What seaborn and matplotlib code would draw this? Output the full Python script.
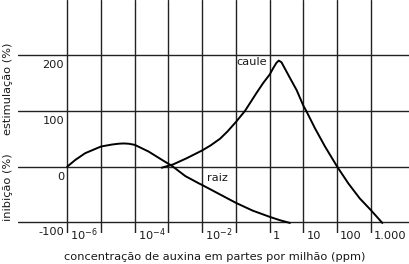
import numpy as np
import pandas as pd
import matplotlib
matplotlib.use("Agg")
import matplotlib.pyplot as plt
from matplotlib.ticker import NullLocator
import seaborn as sns

# ---- data (log10 of concentration in ppm, response in %) ----
raiz_exp = [-6, -5.76, -5.47, -5.0, -4.68, -4.48, -4.33, -4.18, -4.0, -3.59,
            -3.19, -2.89, -2.5, -2.1, -2.0, -1.5, -1.0, -0.5, 0.0, 0.3, 0.6]
raiz_val = [0, 12, 24, 36, 39.5, 41, 41.5, 41, 39, 27,
            12, 1, -17, -30, -33, -49, -65, -79, -90, -96, -101]

caule_exp = [-3.2, -2.86, -2.46, -2.0, -1.75, -1.47, -1.25, -1.0, -0.73, -0.39,
             -0.19, 0.0, 0.11, 0.2, 0.27, 0.35, 0.6, 0.8, 1.0, 1.1,
             1.34, 1.64, 2.0, 2.33, 2.67, 3.0, 3.34]
caule_val = [-2, 4, 15, 29, 38, 50, 63, 80, 100, 132,
             150, 165, 177, 186, 190, 187, 159, 137, 109, 98,
             69, 36, 0, -30, -57, -78, -101]

x_tick_exp = [-6, -5, -4, -3, -2, -1, 0, 1, 2, 3]
x_label_exp = [-6, -4, -2, 0, 1, 2, 3]
x_label_txt = ["$10^{-6}$", "$10^{-4}$", "$10^{-2}$", "1", "10", "100", "1.000"]
y_ticks = [-100, 0, 100, 200]
y_label_txt = ["-100", "0", "100", "200"]

sns.set_style("white")
plt.rcParams["font.family"] = ["DejaVu Sans"]
plt.rcParams["mathtext.fontset"] = "dejavusans"
FS = 8.2
TXT = "#1a1a1a"

df_r = pd.DataFrame({"conc": np.power(10.0, raiz_exp), "val": raiz_val})
df_c = pd.DataFrame({"conc": np.power(10.0, caule_exp), "val": caule_val})

fig = plt.figure(figsize=(4.09, 2.64), dpi=100)
ax = fig.add_axes([18 / 409, 31 / 264, 391 / 409, 233 / 264])
ax.set_xscale("log")
ax.set_xlim(10 ** -7.46, 10 ** 4.13)
ax.set_ylim(-119, 298.6)

sns.lineplot(data=df_r, x="conc", y="val", ax=ax, color="black", lw=1.4, sort=False)
sns.lineplot(data=df_c, x="conc", y="val", ax=ax, color="black", lw=1.4, sort=False)

ax.set_xticks(np.power(10.0, x_tick_exp))
ax.xaxis.set_minor_locator(NullLocator())
ax.set_yticks(y_ticks)
ax.tick_params(length=0, labelbottom=False, labelleft=False)
ax.grid(True, color="#222222", lw=1.0)
ax.set_axisbelow(True)
for s in ax.spines.values():
    s.set_visible(False)
ax.set_xlabel("")
ax.set_ylabel("")

# y tick labels (below-left of each line)
for v, t in zip(y_ticks, y_label_txt):
    ax.annotate(t, xy=(1e-6, v), xytext=(-3, -13), textcoords="offset pixels",
                ha="right", va="baseline", fontsize=FS, color=TXT)

# x tick labels (right of each line, below -100)
for e, t in zip(x_label_exp, x_label_txt):
    ax.annotate(t, xy=(10.0 ** e, -100), xytext=(3, -17), textcoords="offset pixels",
                ha="left", va="baseline", fontsize=FS, color=TXT)

ax.text(10 ** -0.08, 188, "caule", ha="right", va="center", fontsize=FS, color=TXT)
ax.text(10 ** -1.86, -21, "raiz", ha="left", va="center", fontsize=FS, color=TXT)

fig.text(215 / 409, 1 - 257 / 264, "concentração de auxina em partes por milhão (ppm)",
         ha="center", va="center", fontsize=FS, color=TXT)
fig.text(8 / 409, 1 - 89 / 264, "estimulação (%)", rotation=90,
         ha="center", va="center", fontsize=FS, color=TXT)
fig.text(8 / 409, 1 - 187 / 264, "inibição (%)", rotation=90,
         ha="center", va="center", fontsize=FS, color=TXT)

fig.savefig("out.png", dpi=100)
